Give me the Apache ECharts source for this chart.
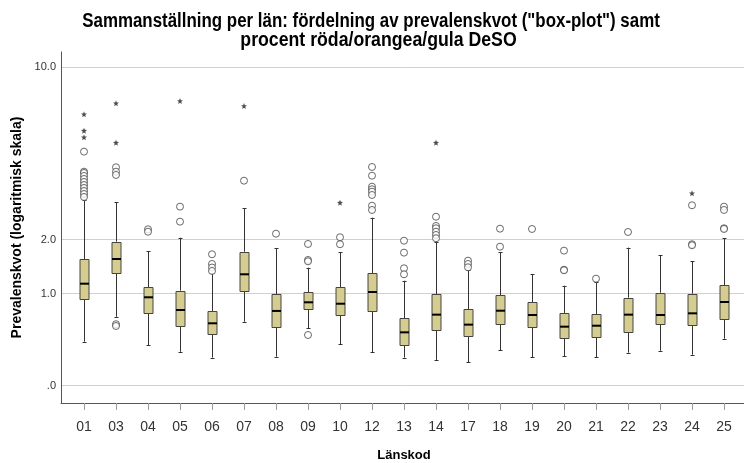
<!DOCTYPE html>
<html>
<head>
<meta charset="utf-8">
<script src="https://cdn.jsdelivr.net/npm/echarts@6/dist/echarts.min.js"></script>
<style>html,body{margin:0;padding:0;background:#fff}#c{width:744px;height:463px}</style>
</head>
<body>
<div id="c"></div>
<script>
var categories = ['01','03','04','05','06','07','08','09','10','12','13','14','17','18','19','20','21','22','23','24','25'];
var whiskerLow  = [0.614,0.791,0.593,0.554,0.522,0.752,0.527,0.703,0.598,0.551,0.522,0.510,0.498,0.564,0.524,0.531,0.525,0.549,0.560,0.538,0.633];
var q1          = [0.945,1.230,0.824,0.720,0.662,1.031,0.715,0.856,0.803,0.839,0.593,0.693,0.652,0.737,0.713,0.639,0.642,0.679,0.735,0.725,0.773];
var median      = [1.107,1.423,0.964,0.847,0.740,1.218,0.839,0.916,0.903,1.017,0.675,0.808,0.730,0.841,0.805,0.715,0.722,0.808,0.805,0.819,0.919];
var q3          = [1.423,1.697,1.067,1.031,0.839,1.532,0.994,1.014,1.067,1.230,0.781,0.994,0.856,0.987,0.919,0.822,0.811,0.960,1.010,1.000,1.092];
var whiskerHigh = [2.600,2.533,1.544,1.767,1.230,2.384,1.587,1.303,1.523,2.166,1.141,1.697,1.273,1.523,1.222,1.085,1.123,1.597,1.477,1.390,1.757];
var outlierCircles = [
  [4.239,3.458,3.413,3.311,3.211,3.114,3.020,2.930,2.841,2.756,2.674],
  [3.617,3.458,3.345,0.733,0.720],
  [1.925,1.878],
  [2.423,2.080],
  [1.493,1.353,1.305,1.260],
  [3.156],
  [1.841],
  [1.658,1.409,1.390,0.657],
  [1.775,1.653],
  [3.628,3.320,2.969,2.892,2.822,2.729,2.447,2.343],
  [1.714,1.518,1.295,1.218],
  [2.188,1.991,1.945,1.878,1.817,1.757],
  [1.399,1.353,1.308],
  [1.937,1.613],
  [1.931],
  [1.549,1.276,1.269],
  [1.165],
  [1.873],
  [],
  [2.457,1.653,1.636],
  [2.423,2.343,1.945,1.931]
];
var outlierStars = [
  [6.200,5.248,4.907],[6.934,4.645],[],[7.097],[],[6.746],[],[],[2.523],[],[],[4.645],[],[],[],[],[],[],[],[2.776],[]
];
var tickValues = [0.3924, 1, 1.732, 10];
var tickLabels = ['.0', '1.0', '2.0', '10.0'];
var yMin = 0.329, yMax = 11.68;
var titleLines = ['Sammanställning per län: fördelning av prevalenskvot ("box-plot") samt', 'procent röda/orangea/gula DeSO'];

var boxData = categories.map(function(c, i){ return [i, whiskerLow[i], q1[i], median[i], q3[i], whiskerHigh[i]]; });
var circleData = [], starData = [];
outlierCircles.forEach(function(arr, i){ arr.forEach(function(v){ circleData.push([i, v]); }); });
outlierStars.forEach(function(arr, i){ arr.forEach(function(v){ starData.push([i, v]); }); });

var FONT = '"Liberation Sans", Arial, sans-serif';
var starPath = 'path://M0,-10 L2.6,-3.4 L9.51,-3.09 L4.1,1.3 L5.88,8.09 L0,4.3 L-5.88,8.09 L-4.1,1.3 L-9.51,-3.09 L-2.6,-3.4 Z';

function labelFor(v){
  var best = 0, bd = Infinity;
  for (var k = 0; k < tickValues.length; k++){
    var d = Math.abs(Math.log(v) - Math.log(tickValues[k]));
    if (d < bd){ bd = d; best = k; }
  }
  return tickLabels[best];
}

var chart = echarts.init(document.getElementById('c'), null, {renderer:'canvas'});
chart.setOption({
  animation: false,
  backgroundColor: '#fff',
  graphic: [
    {type: 'text', x: 371, y: 21.5, scaleX: 0.845, style: {text: titleLines[0], x: 0, y: 0, align: 'center', verticalAlign: 'middle', font: 'bold 20px "Liberation Sans", Arial, sans-serif', fill: '#000'}},
    {type: 'text', x: 378.5, y: 40, scaleX: 0.885, style: {text: titleLines[1], x: 0, y: 0, align: 'center', verticalAlign: 'middle', font: 'bold 20px "Liberation Sans", Arial, sans-serif', fill: '#000'}}
  ],
  grid: [
    {left: 68, right: 4, top: 52, bottom: 60, outerBoundsMode: 'none'},
    {left: 61, right: 0, top: 52, bottom: 60, outerBoundsMode: 'none'}
  ],
  xAxis: [
    {
      type: 'category', gridIndex: 0, data: categories,
      axisLine: {show: false},
      axisTick: {show: true, alignWithLabel: true, length: 7, lineStyle: {color: '#999'}},
      axisLabel: {margin: 17, fontFamily: FONT, fontSize: 14, color: '#333'},
      name: 'Länskod', nameLocation: 'middle', nameGap: 46,
      nameTextStyle: {fontFamily: FONT, fontWeight: 'bold', fontSize: 13, color: '#000'},
      splitLine: {show: false}
    },
    {
      type: 'value', gridIndex: 1, min: 0, max: 1,
      axisLine: {show: true, lineStyle: {color: '#555', width: 1}},
      axisTick: {show: false}, axisLabel: {show: false}, splitLine: {show: false}
    }
  ],
  yAxis: [
    {
      type: 'log', gridIndex: 0, min: yMin, max: yMax, offset: 7,
      axisLine: {show: true, lineStyle: {color: '#555', width: 1}},
      axisTick: {show: false, customValues: tickValues},
      axisLabel: {customValues: tickValues, margin: 5, fontFamily: FONT, fontSize: 11, color: '#333', formatter: function(v){ return labelFor(v); }},
      splitLine: {show: false},
      name: 'Prevalenskvot (logaritmisk skala)', nameLocation: 'middle', nameGap: 34,
      nameTextStyle: {fontFamily: FONT, fontWeight: 'bold', fontSize: 14, color: '#000'}
    },
    {
      type: 'log', gridIndex: 1, min: yMin, max: yMax,
      axisLine: {show: false},
      axisTick: {show: false, customValues: tickValues},
      axisLabel: {show: false, customValues: tickValues},
      splitLine: {show: true, lineStyle: {color: '#d0d0d0', width: 1}}
    }
  ],
  series: [
    {
      type: 'custom', xAxisIndex: 0, yAxisIndex: 0, z: 3,
      data: boxData,
      encode: {x: 0, y: [1, 2, 3, 4, 5]},
      renderItem: function(params, api){
        var i = api.value(0);
        var x = Math.round(api.coord([i, 1])[0]) + 0.5;
        var yl = api.coord([i, api.value(1)])[1];
        var y1 = api.coord([i, api.value(2)])[1];
        var ym = api.coord([i, api.value(3)])[1];
        var y3 = api.coord([i, api.value(4)])[1];
        var yh = api.coord([i, api.value(5)])[1];
        var bw = 9, cw = 4;
        var ls = {stroke: '#333', lineWidth: 1};
        return {type: 'group', children: [
          {type: 'line', shape: {x1: x, y1: yh, x2: x, y2: y3}, style: ls},
          {type: 'line', shape: {x1: x, y1: y1, x2: x, y2: yl}, style: ls},
          {type: 'line', shape: {x1: x - cw/2, y1: Math.round(yh)+0.5, x2: x + cw/2, y2: Math.round(yh)+0.5}, style: ls},
          {type: 'line', shape: {x1: x - cw/2, y1: Math.round(yl)+0.5, x2: x + cw/2, y2: Math.round(yl)+0.5}, style: ls},
          {type: 'rect', shape: {x: x - bw/2, y: Math.round(y3)+0.5, width: bw, height: Math.round(y1) - Math.round(y3)}, style: {fill: '#d4cd8f', stroke: '#444', lineWidth: 1}},
          {type: 'line', shape: {x1: x - bw/2, y1: ym, x2: x + bw/2, y2: ym}, style: {stroke: '#000', lineWidth: 2}}
        ]};
      }
    },
    {
      type: 'scatter', xAxisIndex: 0, yAxisIndex: 0, z: 4,
      data: circleData, symbol: 'circle', symbolSize: 7,
      itemStyle: {color: '#fff', borderColor: '#444', borderWidth: 1}
    },
    {
      type: 'scatter', xAxisIndex: 0, yAxisIndex: 0, z: 4,
      data: starData, symbol: starPath, symbolSize: 6,
      itemStyle: {color: '#222'}
    }
  ]
});
</script>
</body>
</html>
